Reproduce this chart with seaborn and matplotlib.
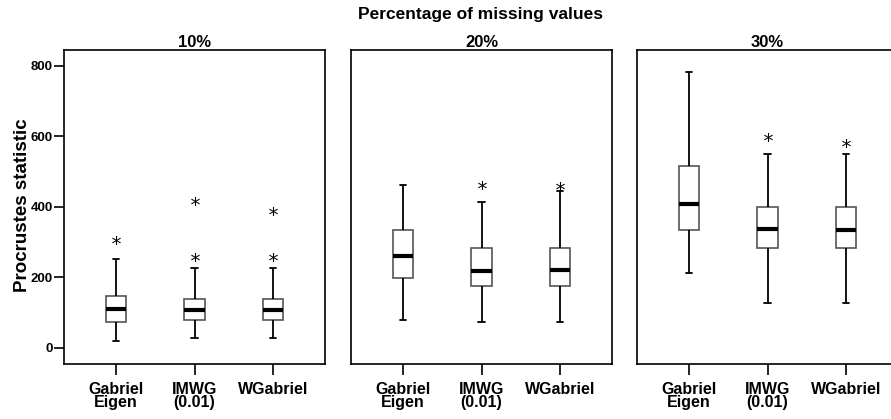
import pandas as pd
import matplotlib.pyplot as plt
import seaborn as sns

PANELS = ['10%', '20%', '30%']
METHODS = ['Gabriel\nEigen', 'IMWG\n(0.01)', 'WGabriel']

# Box summaries (one entry per method, order as METHODS)
# 10% missing
lo_10 = [20, 27, 27]
q1_10 = [73, 79, 79]
med_10 = [109, 107, 107]
q3_10 = [147, 138, 138]
hi_10 = [251, 225, 225]
out_10 = [[305], [258, 417], [258, 388]]
# 20% missing
lo_20 = [80, 73, 73]
q1_20 = [198, 175, 175]
med_20 = [260, 218, 220]
q3_20 = [333, 284, 284]
hi_20 = [463, 414, 446]
out_20 = [[], [463], [460]]
# 30% missing
lo_30 = [211, 126, 126]
q1_30 = [335, 284, 283]
med_30 = [408, 338, 335]
q3_30 = [515, 400, 399]
hi_30 = [783, 551, 549]
out_30 = [[], [599], [580]]

summaries = {
    '10%': (lo_10, q1_10, med_10, q3_10, hi_10, out_10),
    '20%': (lo_20, q1_20, med_20, q3_20, hi_20, out_20),
    '30%': (lo_30, q1_30, med_30, q3_30, hi_30, out_30),
}

# Build a 13-value sample per box whose quartiles / whiskers / fliers
# come out exactly as read above (quartiles land on sorted indices 3, 6, 9)
rows = []
for panel in PANELS:
    lo, q1, med, q3, hi, out = summaries[panel]
    for i, m in enumerate(METHODS):
        vals = [lo[i]] + [q1[i]] * 3 + [med[i]] * 3 + [q3[i]] * 3
        vals += [hi[i]] * (3 - len(out[i])) + sorted(out[i])
        for v in vals:
            rows.append({'panel': panel, 'method': m, 'value': v})
df = pd.DataFrame(rows)

sns.set_style('white')
plt.rcParams['font.family'] = ['Liberation Sans', 'DejaVu Sans']
plt.rcParams['text.color'] = 'black'
plt.rcParams['axes.labelcolor'] = 'black'
plt.rcParams['xtick.color'] = 'black'
plt.rcParams['ytick.color'] = 'black'

W, H = 891, 419
fig = plt.figure(figsize=(W / 100, H / 100), dpi=100, facecolor='white')

lefts = [64, 351, 637]
ax_w, ax_top, ax_bot = 261, 50, 364
BOX_W = 0.26
CAP_W = 0.08

for k, panel in enumerate(PANELS):
    ax = fig.add_axes([lefts[k] / W, 1 - ax_bot / H, ax_w / W, (ax_bot - ax_top) / H])
    sns.boxplot(
        data=df[df['panel'] == panel], x='method', y='value', order=METHODS,
        color='white', linecolor='black', linewidth=1.3, width=BOX_W, whis=1.5,
        boxprops={'edgecolor': '#555555', 'linewidth': 1.2},
        medianprops={'color': 'black', 'linewidth': 3},
        flierprops={'marker': '$*$', 'markersize': 6.5, 'markeredgewidth': 0,
                    'markerfacecolor': 'black', 'markeredgecolor': 'black'},
        ax=ax,
    )
    # shorten the whisker caps
    for ln in ax.lines:
        xd = list(ln.get_xdata())
        yd = list(ln.get_ydata())
        if len(xd) == 2 and yd[0] == yd[1]:
            span = abs(xd[1] - xd[0])
            if 0 < span < BOX_W * 0.8:
                c = (xd[0] + xd[1]) / 2
                ln.set_xdata([c - CAP_W / 2, c + CAP_W / 2])
    ax.set_xlim(-0.667, 2.667)
    ax.set_ylim(-46, 845)
    for s in ax.spines.values():
        s.set_visible(True)
        s.set_color('black')
        s.set_linewidth(1.2)
    ax.set_xlabel('')
    ax.set_ylabel('')
    ax.set_title(panel, fontsize=12, fontweight='bold', pad=2)
    ax.tick_params(axis='x', bottom=True, length=8, width=1.2, pad=5,
                   labelsize=11.5, direction='out')
    for lab in ax.get_xticklabels():
        lab.set_fontweight('bold')
        lab.set_linespacing(0.85)
    if k == 0:
        ax.set_yticks([0, 200, 400, 600, 800])
        ax.tick_params(axis='y', left=True, length=7, width=1.2, pad=1,
                       labelsize=9.5, direction='out')
        for lab in ax.get_yticklabels():
            lab.set_fontweight('bold')
    else:
        ax.set_yticks([])

fig.text(23 / W, 1 - 205 / H, 'Procrustes statistic', rotation=90,
         ha='center', va='center', fontsize=13.5, fontweight='bold')
fig.text(481 / W, 1 - 15 / H, 'Percentage of missing values',
         ha='center', va='center', fontsize=12.5, fontweight='bold')

fig.savefig('out.png', dpi=100)
